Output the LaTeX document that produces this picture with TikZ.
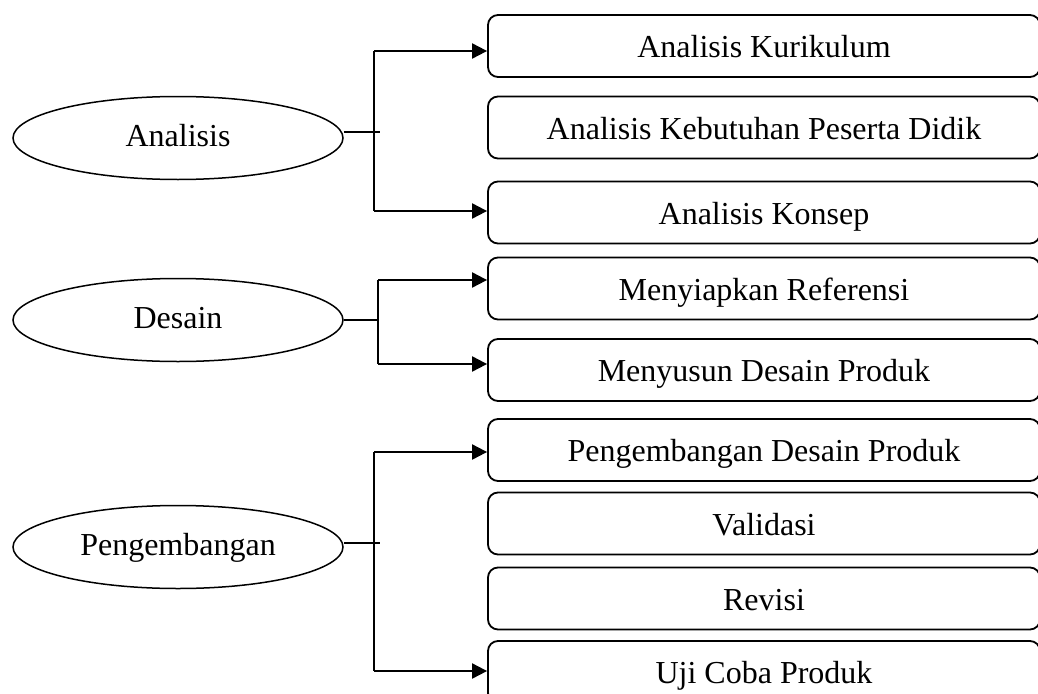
\documentclass[tikz,border=0pt]{standalone}
\usepackage{fontspec}
\setmainfont{Liberation Serif}
\usetikzlibrary{arrows.meta,shapes.geometric}

\tikzset{
	stage/.style={draw, ellipse, line width=1.5pt, minimum width=330pt, minimum height=83pt, inner sep=0pt, text height=23pt, text depth=7pt},
	stepbox/.style={draw, rounded corners=10pt, line width=1.8pt, minimum width=552pt, minimum height=62pt, inner sep=0pt, text height=23pt, text depth=0pt},
	conn/.style={line width=2pt},
	arr/.style={line width=2pt, -{Triangle[length=15pt,width=15pt]}}
}

\begin{document}
\begin{tikzpicture}[x=1pt, y=-1pt, font=\fontsize{32}{38}\selectfont]
			%%%%% START %%%%%
			\clip (0, 0) rectangle (1038, 693);
			
			% stages
			\node[stage] (analisis) at (178, 138) {Analisis};
			\node[stage] (desain) at (178, 320) {Desain};
			\node[stage] (pengembangan) at (178, 547) {Pengembangan};
			
			% steps
			\node[stepbox] (kurikulum) at (764, 46) {Analisis Kurikulum};
			\node[stepbox] (kebutuhan) at (764, 127.5) {Analisis Kebutuhan Peserta Didik};
			\node[stepbox] (konsep) at (764, 212.5) {Analisis Konsep};
			\node[stepbox] (referensi) at (764, 288.5) {Menyiapkan Referensi};
			\node[stepbox] (menyusun) at (764, 370) {Menyusun Desain Produk};
			\node[stepbox] (pengdesain) at (764, 450) {Pengembangan Desain Produk};
			\node[stepbox] (validasi) at (764, 523.5) {Validasi};
			\node[stepbox] (revisi) at (764, 598.5) {Revisi};
			\node[stepbox] (ujicoba) at (764, 672) {Uji Coba Produk};
			
			% branch points
			\coordinate (a1) at (374, 51);
			\coordinate (a2) at (374, 211);
			\coordinate (d1) at (378, 280);
			\coordinate (d2) at (378, 364);
			\coordinate (p1) at (374, 452);
			\coordinate (p2) at (374, 671);
			
			% Analisis
			\draw[conn] (analisis.east) ++(0, -6) -- ++(36, 0);
			\draw[conn] (a1) -- (a2);
			\draw[arr] (a1) -- (a1 -| kurikulum.west);
			\draw[arr] (a2) -- (a2 -| konsep.west);
			
			% Desain
			\draw[conn] (desain.east) -- (desain.east -| d1);
			\draw[conn] (d1) -- (d2);
			\draw[arr] (d1) -- (d1 -| referensi.west);
			\draw[arr] (d2) -- (d2 -| menyusun.west);
			
			% Pengembangan
			\draw[conn] (pengembangan.east) ++(0, -4) -- ++(36, 0);
			\draw[conn] (p1) -- (p2);
			\draw[arr] (p1) -- (p1 -| pengdesain.west);
			\draw[arr] (p2) -- (p2 -| ujicoba.west);
			
			%%%%% END %%%%%
		\end{tikzpicture}
\end{document}
